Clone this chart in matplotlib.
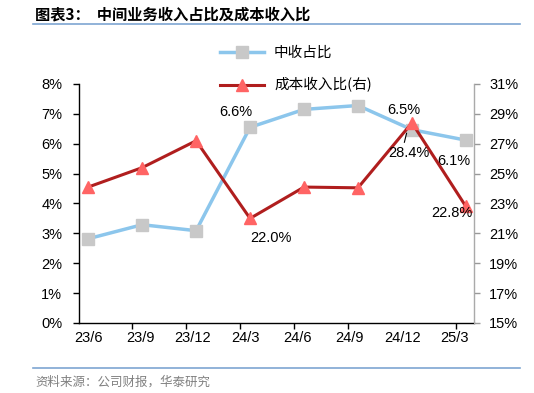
import matplotlib.pyplot as plt
import numpy as np
from matplotlib.lines import Line2D

plt.rcParams['font.family'] = ['Liberation Sans', 'Noto Sans CJK SC', 'DejaVu Sans']

quarters = ['23/6', '23/9', '23/12', '24/3', '24/6', '24/9', '24/12', '25/3']
mid_income = [2.82, 3.29, 3.09, 6.55, 7.15, 7.28, 6.47, 6.12]   # left axis, %
cost_income = [24.1, 25.4, 27.2, 22.0, 24.1, 24.05, 28.4, 22.8]  # right axis, %

x = np.arange(len(quarters))

fig = plt.figure(figsize=(5.34, 3.93), dpi=100)
ax = fig.add_axes([79/534, 1-323/393, (474-79)/534, (323-84)/393])
ax2 = ax.twinx()

ax.plot(x, mid_income, color='#8CC6EC', lw=2.5, marker='s', ms=9,
        mfc='#C8C8C8', mec='#C8C8C8', zorder=3)
ax2.plot(x, cost_income, color='#B01E1E', lw=2.2, marker='^', ms=9,
         mfc='#FF6464', mec='#FF6464', zorder=3)

ax.set_xlim(-0.17, 7.15)
ax.set_ylim(0, 8)
ax.set_yticks(range(0, 9))
ax.set_yticklabels([f'{v}%' for v in range(0, 9)])
ax2.set_ylim(15, 31)
ax2.set_yticks(range(15, 32, 2))
ax2.set_yticklabels([f'{v}%' for v in range(15, 32, 2)])

# category labels (drift slightly left like the original), tick marks at boundaries
ax.set_xticks(x * 0.97)
ax.set_xticklabels(quarters)
ax.set_xticks(x[1:] - 0.18, minor=True)
ax.tick_params(axis='x', which='major', length=0, pad=6, labelsize=10.5)
ax.tick_params(axis='x', which='minor', length=4, width=1, color='black')
ax.tick_params(axis='y', length=4, width=1, labelsize=10.5, pad=8)
ax2.tick_params(axis='y', length=4, width=1, color='#999999', labelsize=10.5, pad=7)

for a in (ax, ax2):
    a.spines['top'].set_visible(False)
ax.spines['left'].set_linewidth(1)
ax.spines['bottom'].set_linewidth(1)
ax2.spines['left'].set_visible(False)
ax2.spines['bottom'].set_visible(False)
ax2.spines['right'].set_color('#AAAAAA')

# data labels
ax.annotate('6.6%', (3, mid_income[3]), xytext=(-10, 11), textcoords='offset points',
            ha='center', va='center', fontsize=10.5)
ax2.annotate('22.0%', (3, cost_income[3]), xytext=(15, -14), textcoords='offset points',
             ha='center', va='center', fontsize=10.5)
ax.annotate('6.5%', (6, mid_income[6]), xytext=(-6, 14), textcoords='offset points',
            ha='center', va='center', fontsize=10.5)
ax2.annotate('28.4%', (6, cost_income[6]), xytext=(-2, -22), textcoords='offset points',
             ha='center', va='center', fontsize=10.5)
ax.plot([5.9, 5.86], [6.35, 6.05], color='black', lw=0.8, zorder=4)
ax.annotate('6.1%', (7, mid_income[7]), xytext=(-9, -15), textcoords='offset points',
            ha='center', va='center', fontsize=10.5)
ax2.annotate('22.8%', (7, cost_income[7]), xytext=(-10, -5), textcoords='offset points',
             ha='center', va='center', fontsize=10.5)

handles = [Line2D([], [], color='#8CC6EC', lw=2.5, marker='s', ms=8,
                  mfc='#C8C8C8', mec='#C8C8C8'),
           Line2D([], [], color='#B01E1E', lw=2.2, marker='^', ms=8,
                  mfc='#FF6464', mec='#FF6464')]
fig.legend(handles, ['中收占比', '成本收入比(右)'], loc='upper left',
           bbox_to_anchor=(207/534, 1-33/393), frameon=False,
           handlelength=3.0, labelspacing=1.2, handletextpad=0.7,
           prop={'family': ['Noto Sans CJK SC', 'DejaVu Sans'], 'size': 10.5})

# header and footer
fig.text(35/534, 1-14/393, '图表3：  中间业务收入占比及成本收入比', fontsize=11,
         fontweight='bold', va='center', family=['Noto Sans CJK SC', 'DejaVu Sans'])
fig.add_artist(Line2D([33/534, 520/534], [1-24/393, 1-24/393], color='#7EA6D2', lw=1.2))
fig.add_artist(Line2D([33/534, 520/534], [1-368/393, 1-368/393], color='#7EA6D2', lw=1.2))
fig.text(35/534, 1-382/393, '资料来源：公司财报，华泰研究', fontsize=9, color='#808080',
         va='center', family=['Noto Sans CJK SC', 'DejaVu Sans'])

fig.savefig('out.png', dpi=100)
